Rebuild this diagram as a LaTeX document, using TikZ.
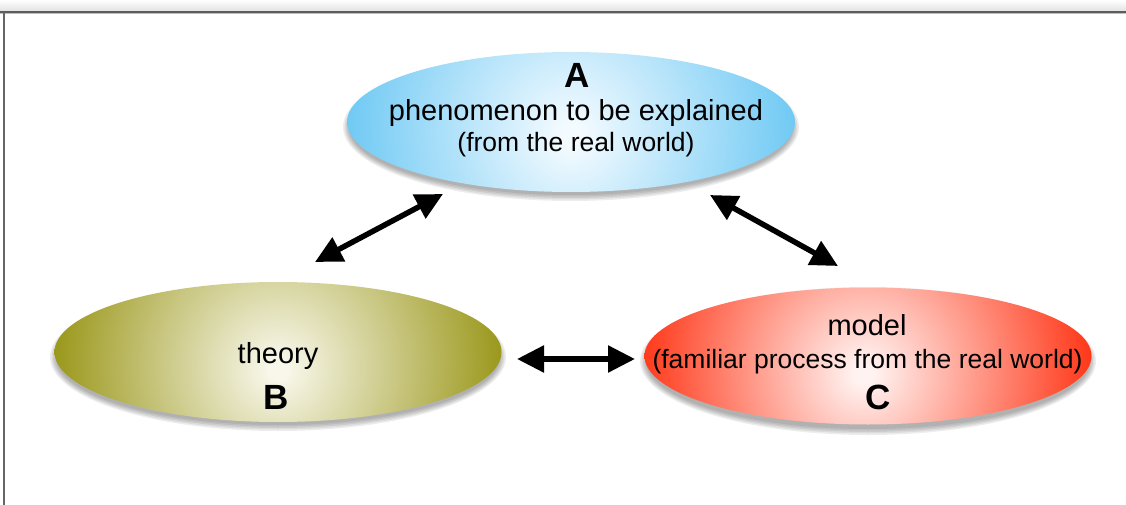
\documentclass[tikz,border=0pt]{standalone}
\usepackage{fontspec}
\setmainfont{Liberation Sans}
\usetikzlibrary{arrows.meta,shapes.geometric}
\definecolor{aIn}{HTML}{F4FBFF}
\definecolor{aOut}{HTML}{6FC9F4}
\definecolor{bIn}{HTML}{F8F7EA}
\definecolor{bOut}{HTML}{9A971A}
\definecolor{cIn}{HTML}{FFF3F1}
\definecolor{cOut}{HTML}{FF3718}
\definecolor{frameline}{HTML}{5C5C5C}
\definecolor{topband}{HTML}{E2E2E2}
\pgfdeclareradialshading{ashade}{\pgfpoint{0bp}{-1.5bp}}{color(0bp)=(aIn); color(1bp)=(aIn); color(25bp)=(aOut); color(50bp)=(aOut)}
\pgfdeclareradialshading{bshade}{\pgfpoint{0bp}{-2bp}}{color(0bp)=(bIn); color(1bp)=(bIn); color(25bp)=(bOut); color(50bp)=(bOut)}
\pgfdeclareradialshading{cshade}{\pgfpoint{-0.5bp}{-2bp}}{color(0bp)=(cIn); color(1bp)=(cIn); color(25bp)=(cOut); color(50bp)=(cOut)}
\tikzset{
  bubble/.style={ellipse, inner sep=0pt, minimum width=448pt, minimum height=140pt,
    path picture={\shade[shading=#1] (path picture bounding box.center) circle[radius=226pt];}},
  label/.style={anchor=base, inner sep=0pt, font=\fontsize{29}{34}\selectfont},
  sublabel/.style={anchor=base, inner sep=0pt, font=\fontsize{26.5}{31}\selectfont},
  letter/.style={anchor=base, inner sep=0pt, font=\fontsize{35}{40}\selectfont\bfseries},
  biarrow/.style={line width=5.5pt, {Triangle[length=27pt,width=26pt]}-{Triangle[length=27pt,width=26pt]}},
}
\begin{document}
\begin{tikzpicture}[x=1pt,y=-1pt]
\useasboundingbox (0,0) rectangle (1126,505);
% frame
\fill[top color=white, bottom color=topband] (0,0) rectangle (1126,11);
\draw[line width=1.2pt, color=black!25] (0,13.6) -- (1126,13.6);
\draw[line width=2.2pt, color=frameline] (0,12) -- (1126,12);
\draw[line width=1.5pt, color=black!60] (4,12) -- (4,505);
% shadows
\foreach \cx/\cy in {571/122, 278/352, 868/356}{
  \foreach \d in {6,4.5,3,1.5,0}{
    \fill[black, opacity=0.07] (\cx,\cy+5) ellipse [x radius={224pt+\d pt-2pt}, y radius={70pt+\d pt-2pt}];
  }
}
% ellipses
\node[bubble=ashade] (A) at (571,122) {};
\node[bubble=bshade, minimum width=447pt] (B) at (278,352) {};
\node[bubble=cshade, minimum width=447pt, minimum height=137pt] (C) at (868,356) {};
% texts
\node[letter] (tA) at (577,88) {A};
\node[label] (tA1) at (576,121) {phenomenon to be explained};
\node[sublabel] (tA2) at (576,152) {(from the real world)};
\node[label] (tB1) at (278,363) {theory};
\node[letter] (tB) at (276,409) {B};
\node[label] (tC1) at (867,335) {model};
\node[sublabel] (tC2) at (867.5,368) {(familiar process from the real world)};
\node[letter] (tC) at (878,409) {C};
% arrows
\coordinate (ab1) at (315,262);
\coordinate (ab2) at (443,194);
\coordinate (ac1) at (710,195);
\coordinate (ac2) at (838,266);
\coordinate (bc1) at (517,359);
\coordinate (bc2) at (635,359);
\draw[biarrow] (ab1) -- (ab2);
\draw[biarrow] (ac1) -- (ac2);
\draw[biarrow] (bc1) -- (bc2);
\end{tikzpicture}
\end{document}
